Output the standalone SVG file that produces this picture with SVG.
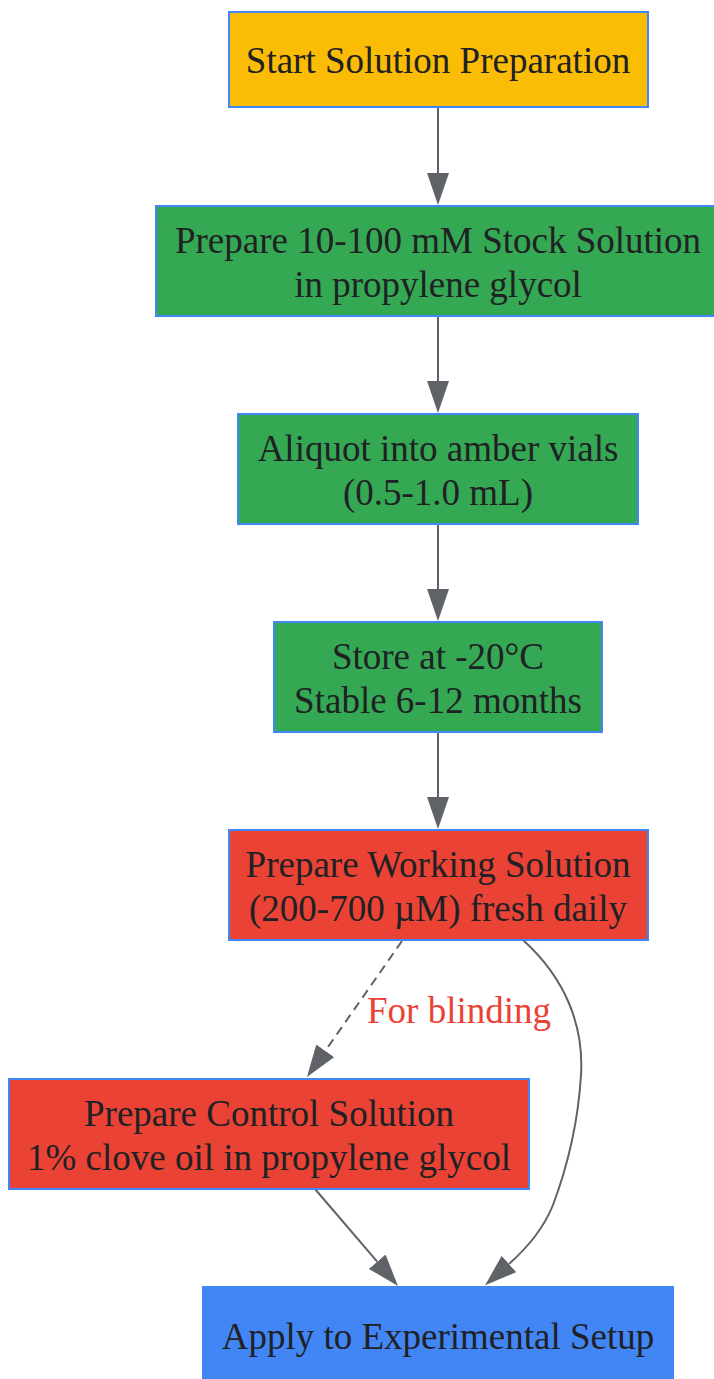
<svg xmlns="http://www.w3.org/2000/svg" width="714" height="1379" viewBox="0 0 714 1379">
<style>
  .box { stroke: #4285F4; stroke-width: 2; }
  .yellow { fill: #FBBC05; }
  .green { fill: #34A853; }
  .red { fill: #EA4335; }
  .blue { fill: #4285F4; }
  .t { font-family: "Liberation Serif", "Times New Roman", serif; font-size: 37px; fill: #202124; text-anchor: middle; }
  .lbl { font-family: "Liberation Serif", "Times New Roman", serif; font-size: 37px; fill: #EA4335; }
  .edge { fill: none; stroke: #5f6368; stroke-width: 2; }
  .dash { stroke-dasharray: 9,6; }
</style>
<defs>
  <marker id="ah" viewBox="0 0 32 22" refX="0" refY="11" markerWidth="32" markerHeight="22" markerUnits="userSpaceOnUse" orient="auto">
    <path d="M0,0 L32,11 L0,22 z" fill="#5f6368"/>
  </marker>
</defs>
<rect width="714" height="1379" fill="#ffffff"/>
<g id="connectors">
  <path class="edge" d="M438,108 L438,173" marker-end="url(#ah)"/>
  <path class="edge" d="M438,316 L438,381" marker-end="url(#ah)"/>
  <path class="edge" d="M438,524 L438,589" marker-end="url(#ah)"/>
  <path class="edge" d="M438,732 L438,797" marker-end="url(#ah)"/>
  <path class="edge dash" d="M402,941 L325.3,1050.8" marker-end="url(#ah)"/>
  <text class="lbl" x="367" y="1023">For blinding</text>
  <path class="edge" d="M523,940 C565,978 584,1025 581,1075 C578,1125 568,1165 553,1205 C543,1230 527,1248 509,1264" marker-end="url(#ah)"/>
  <path class="edge" d="M315,1189 L377.2,1261.7" marker-end="url(#ah)"/>
</g>
<g id="start">
  <rect class="box yellow" x="229" y="12" width="419" height="95"/>
  <text class="t" x="438" y="73">Start Solution Preparation</text>
</g>
<g id="stock">
  <rect class="box green" x="156" y="206" width="564" height="110"/>
  <text class="t" x="438" y="253">Prepare 10-100 mM Stock Solution</text>
  <text class="t" x="438" y="297">in propylene glycol</text>
</g>
<g id="aliquot">
  <rect class="box green" x="238" y="414" width="400" height="110"/>
  <text class="t" x="438" y="461">Aliquot into amber vials</text>
  <text class="t" x="438" y="505">(0.5-1.0 mL)</text>
</g>
<g id="store">
  <rect class="box green" x="274" y="622" width="328" height="110"/>
  <text class="t" x="438" y="669">Store at -20°C</text>
  <text class="t" x="438" y="713">Stable 6-12 months</text>
</g>
<g id="working">
  <rect class="box red" x="229" y="830" width="419" height="110"/>
  <text class="t" x="438" y="877">Prepare Working Solution</text>
  <text class="t" x="438" y="921">(200-700 µM) fresh daily</text>
</g>
<g id="control">
  <rect class="box red" x="9" y="1079" width="520" height="110"/>
  <text class="t" x="269" y="1126">Prepare Control Solution</text>
  <text class="t" x="269" y="1170">1% clove oil in propylene glycol</text>
</g>
<g id="apply">
  <rect class="box blue" x="203" y="1287" width="470" height="96" stroke="#8ab4f8" stroke-width="1"/>
  <text class="t" x="438" y="1349">Apply to Experimental Setup</text>
</g>
</svg>
